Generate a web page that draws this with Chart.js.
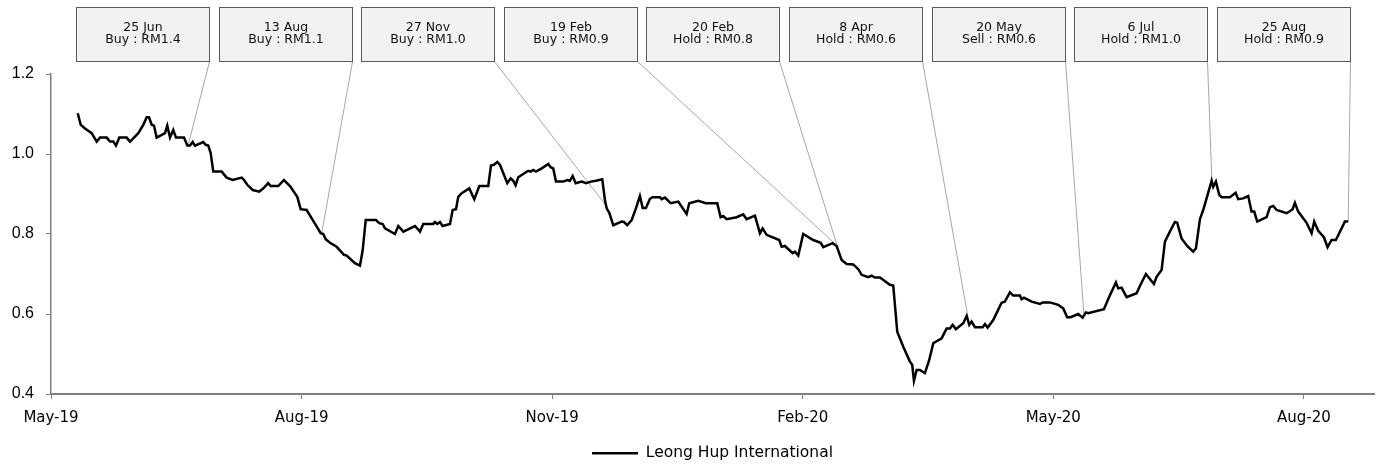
<!DOCTYPE html>
<html>
<head>
<meta charset="utf-8">
<script src="https://cdn.jsdelivr.net/npm/chart.js@4.4.0/dist/chart.umd.min.js"></script>
<style>
  html, body { margin: 0; padding: 0; background: #fff; }
  canvas { display: block; }
</style>
</head>
<body>
<canvas id="priceChart" width="1380" height="465"></canvas>
<script>
// x position of each close, in months after 1 May 2019 (axis labels every 3 months)
const monthPos = [
  0.320,0.356,0.407,0.487,0.547,0.587,0.667,0.706,0.746,0.778,
  0.818,0.906,0.946,1.045,1.105,1.146,1.173,1.206,1.233,1.265,
  1.365,1.392,1.425,1.464,1.496,1.592,1.632,1.664,1.696,1.724,
  1.823,1.852,1.883,1.912,1.943,2.044,2.103,2.175,2.283,2.311,
  2.350,2.415,2.494,2.542,2.601,2.630,2.721,2.789,2.861,2.949,
  2.989,3.061,3.140,3.229,3.260,3.289,3.340,3.420,3.508,3.540,
  3.639,3.699,3.732,3.768,3.891,3.930,3.971,3.999,4.118,4.158,
  4.218,4.358,4.418,4.457,4.577,4.597,4.625,4.657,4.689,4.777,
  4.809,4.849,4.876,4.917,5.008,5.068,5.128,5.235,5.268,5.303,
  5.343,5.375,5.463,5.503,5.535,5.563,5.594,5.654,5.714,5.743,
  5.774,5.806,5.875,5.954,5.982,6.013,6.046,6.133,6.181,6.213,
  6.246,6.282,6.353,6.405,6.465,6.525,6.600,6.632,6.653,6.684,
  6.732,6.832,6.860,6.899,6.952,7.003,7.051,7.084,7.123,7.171,
  7.203,7.291,7.311,7.351,7.419,7.510,7.610,7.642,7.749,7.841,
  7.977,8.017,8.049,8.089,8.209,8.288,8.329,8.428,8.488,8.520,
  8.568,8.719,8.748,8.787,8.879,8.907,8.947,9.006,9.126,9.215,
  9.246,9.358,9.406,9.466,9.526,9.605,9.665,9.706,9.785,9.825,
  9.865,9.925,10.044,10.084,10.132,10.204,10.284,10.311,10.332,10.364,
  10.403,10.463,10.515,10.563,10.663,10.723,10.763,10.795,10.834,10.922,
  10.963,10.994,11.022,11.062,11.154,11.182,11.214,11.281,11.381,11.421,
  11.481,11.520,11.601,11.621,11.649,11.741,11.840,11.872,11.960,12.059,
  12.119,12.167,12.207,12.299,12.351,12.391,12.418,12.606,12.670,12.750,
  12.777,12.818,12.878,12.998,13.037,13.109,13.205,13.237,13.297,13.337,
  13.396,13.456,13.484,13.536,13.603,13.675,13.708,13.756,13.795,13.896,
  13.915,13.947,13.987,14.015,14.115,14.183,14.214,14.274,14.334,14.374,
  14.406,14.442,14.554,14.594,14.633,14.674,14.793,14.841,14.865,14.893,
  14.933,15.033,15.093,15.124,15.172,15.240,15.284,15.332,15.383,15.452,
  15.491,15.531
];

// share price, RM
const price = [
  1.102,1.073,1.064,1.052,1.031,1.041,1.041,1.031,1.031,1.021,
  1.041,1.041,1.031,1.052,1.073,1.092,1.092,1.073,1.071,1.041,
  1.052,1.071,1.041,1.060,1.041,1.041,1.021,1.021,1.030,1.021,
  1.030,1.023,1.021,1.002,0.956,0.956,0.941,0.935,0.941,0.935,
  0.923,0.910,0.906,0.914,0.927,0.920,0.920,0.935,0.920,0.893,
  0.862,0.860,0.833,0.802,0.800,0.787,0.778,0.768,0.748,0.746,
  0.727,0.721,0.760,0.835,0.835,0.827,0.825,0.814,0.800,0.820,
  0.806,0.820,0.806,0.825,0.825,0.830,0.825,0.830,0.820,0.825,
  0.860,0.862,0.893,0.902,0.914,0.887,0.920,0.920,0.971,0.973,
  0.980,0.973,0.927,0.939,0.933,0.922,0.942,0.950,0.958,0.956,
  0.960,0.956,0.964,0.975,0.967,0.964,0.931,0.931,0.935,0.933,
  0.945,0.927,0.931,0.927,0.931,0.933,0.937,0.885,0.864,0.853,
  0.822,0.831,0.830,0.822,0.835,0.864,0.895,0.865,0.865,0.888,
  0.892,0.892,0.887,0.891,0.877,0.881,0.850,0.877,0.883,0.877,
  0.877,0.842,0.845,0.837,0.842,0.849,0.837,0.846,0.802,0.814,
  0.798,0.785,0.768,0.770,0.752,0.756,0.746,0.800,0.785,0.778,
  0.767,0.777,0.770,0.735,0.725,0.724,0.712,0.698,0.692,0.696,
  0.691,0.691,0.673,0.671,0.556,0.518,0.481,0.473,0.433,0.460,
  0.460,0.452,0.485,0.527,0.539,0.564,0.564,0.573,0.562,0.577,
  0.595,0.573,0.581,0.567,0.567,0.575,0.566,0.585,0.628,0.631,
  0.654,0.646,0.646,0.637,0.641,0.631,0.625,0.629,0.629,0.623,
  0.614,0.592,0.592,0.600,0.591,0.604,0.602,0.612,0.643,0.679,
  0.664,0.666,0.642,0.652,0.670,0.700,0.675,0.693,0.710,0.781,
  0.806,0.830,0.828,0.789,0.770,0.756,0.764,0.837,0.860,0.933,
  0.918,0.931,0.898,0.892,0.892,0.903,0.887,0.889,0.895,0.856,
  0.856,0.831,0.842,0.867,0.870,0.860,0.852,0.858,0.862,0.878,
  0.856,0.828,0.802,0.831,0.808,0.792,0.767,0.785,0.785,0.814,
  0.831,0.831
];

const tickLabels = ['May-19', 'Aug-19', 'Nov-19', 'Feb-20', 'May-20', 'Aug-20'];
const yTicks = [0.4, 0.6, 0.8, 1.0, 1.2];

// rating calls shown in the boxes along the top
const noteDates = ['25 Jun', '13 Aug', '27 Nov', '19 Feb', '20 Feb', '8 Apr', '20 May', '6 Jul', '25 Aug'];
const noteCalls = ['Buy : RM1.4', 'Buy : RM1.1', 'Buy : RM1.0', 'Buy : RM0.9', 'Hold : RM0.8',
                   'Hold : RM0.6', 'Sell : RM0.6', 'Hold : RM1.0', 'Hold : RM0.9'];
const noteX = [1.640, 3.244, 6.668, 9.400, 9.410, 10.978, 12.367, 13.899, 15.531];
const noteY = [1.020, 0.805, 0.865, 0.773, 0.773, 0.593, 0.598, 0.935, 0.830];

const tickFont = { family: '"DejaVu Sans", sans-serif', size: 15 };
const axisGrey = '#808080';

// callout boxes with grey leader lines to the price line
const callouts = {
  id: 'callouts',
  beforeDatasetsDraw(chart) {
    const { ctx, scales: { x, y } } = chart;
    ctx.save();
    ctx.strokeStyle = '#a6a6a6';
    ctx.lineWidth = 1;
    noteX.forEach((v, i) => {
      const left = Math.round(76 + i * 142.6);
      ctx.beginPath();
      ctx.moveTo(left + 133.5, 61.5);
      ctx.lineTo(x.getPixelForValue(v), y.getPixelForValue(noteY[i]));
      ctx.stroke();
    });
    ctx.restore();
  },
  afterDraw(chart) {
    const ctx = chart.ctx;
    ctx.save();
    ctx.font = '12.5px "DejaVu Sans", sans-serif';
    ctx.textAlign = 'center';
    ctx.textBaseline = 'alphabetic';
    noteDates.forEach((d, i) => {
      const left = Math.round(76 + i * 142.6) + 0.5;
      ctx.fillStyle = '#f2f2f2';
      ctx.fillRect(left, 7.5, 133, 54);
      ctx.strokeStyle = '#595959';
      ctx.lineWidth = 1;
      ctx.strokeRect(left, 7.5, 133, 54);
      ctx.fillStyle = '#111';
      ctx.fillText(d, left + 66.5, 30.5);
      ctx.fillText(noteCalls[i], left + 66.5, 42.5);
    });
    ctx.restore();
  }
};

const ctx = document.getElementById('priceChart').getContext('2d');
const priceChart = new Chart(ctx, {
  type: 'line',
  data: {
    datasets: [{
      label: 'Leong Hup International',
      data: monthPos.map((m, i) => ({ x: m, y: price[i] })),
      borderColor: '#000',
      backgroundColor: '#000',
      borderWidth: 2.5,
      pointRadius: 0,
      tension: 0,
      fill: false
    }]
  },
  options: {
    responsive: false,
    animation: false,
    layout: { padding: { left: 0, right: 6, top: 74, bottom: -6 } },
    plugins: {
      legend: {
        position: 'bottom',
        fullSize: false,
        labels: {
          usePointStyle: true,
          pointStyle: 'line',
          pointStyleWidth: 46,
          padding: 0,
          color: '#000',
          font: { family: '"DejaVu Sans", sans-serif', size: 15.5 }
        }
      },
      tooltip: { enabled: false }
    },
    scales: {
      x: {
        type: 'linear',
        min: 0,
        max: 15.84,
        afterBuildTicks: s => { s.ticks = tickLabels.map((_, i) => ({ value: i * 3 })); },
        afterFit: s => { s.height = 51.5; },
        ticks: {
          autoSkip: false,
          maxRotation: 0,
          padding: 10,
          color: '#000',
          font: tickFont,
          callback: v => tickLabels[Math.round(v / 3)]
        },
        grid: { drawOnChartArea: false, tickLength: 5, color: axisGrey },
        border: { color: axisGrey, width: 2 }
      },
      y: {
        min: 0.4,
        max: 1.2,
        afterBuildTicks: s => { s.ticks = yTicks.map(v => ({ value: v })); },
        afterFit: s => { s.width = 51; },
        ticks: {
          padding: 12,
          color: '#000',
          font: { family: '"Liberation Sans", Arial, sans-serif', size: 16 },
          callback: v => v.toFixed(1)
        },
        grid: { drawOnChartArea: false, tickLength: 5, color: axisGrey },
        border: { color: axisGrey, width: 1.5 }
      }
    }
  },
  plugins: [callouts]
});
</script>
</body>
</html>
